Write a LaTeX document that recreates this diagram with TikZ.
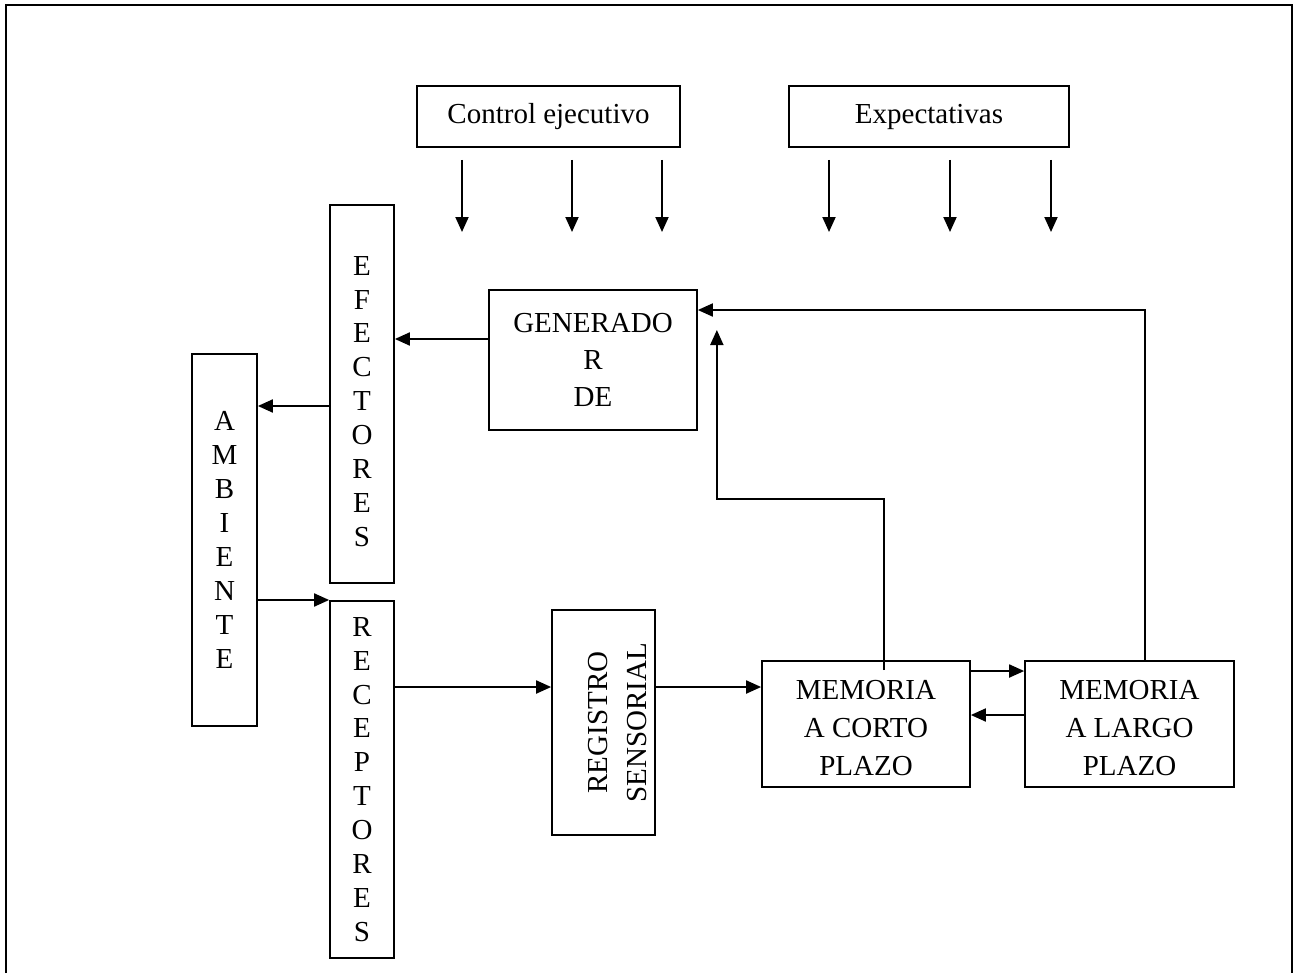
\documentclass[tikz,border=0pt]{standalone}
\usepackage{fontspec}
\setmainfont{Liberation Serif}
\usetikzlibrary{arrows.meta, positioning, calc}

% text stack moved down/up inside its box, box size unchanged
\newcommand{\movedstack}[2]{\raisebox{#1}[\height][\depth]{\begin{tabular}{@{}c@{}}#2\end{tabular}}}

\begin{document}
\begin{tikzpicture}[
    x=0.02cm, y=-0.02cm,
    box/.style={
        rectangle,
        draw,
        line width=1pt,
        inner sep=0pt,
        align=center,
        font=\fontsize{16.5}{21}\selectfont
    },
    vbox/.style={
        box,
        minimum width=1.28cm,
        font=\fontsize{16.5}{19.3}\selectfont
    },
    membox/.style={
        box,
        minimum height=2.52cm,
        font=\fontsize{16.5}{21.8}\selectfont
    },
    arrow/.style={
        -{Triangle[length=0.3cm,width=0.26cm]},
        line width=1.1pt
    }
]
\useasboundingbox (0,0) rectangle (1297,973);

% Frame (open at the bottom)
\draw[line width=1.3pt] (6,973) -- (6,5) -- (1292,5) -- (1292,973);

% Nodes
\node[box, minimum width=5.26cm, minimum height=1.22cm] (ctrl) at (548.5,116.5) {Control ejecutivo};
\node[box, minimum width=5.6cm, minimum height=1.22cm] (expect) at (929,116.5) {Expectativas};
\node[vbox, minimum height=7.56cm] (efect) at (362,394) {\movedstack{-0.2cm}{E\\F\\E\\C\\T\\O\\R\\E\\S}};
\node[vbox, minimum width=1.3cm, minimum height=7.44cm] (amb) at (224.5,540) {A\\M\\B\\I\\E\\N\\T\\E};
\node[vbox, minimum height=7.14cm] (recep) at (362,779.5) {R\\E\\C\\E\\P\\T\\O\\R\\E\\S};
\node[box, minimum width=4.16cm, minimum height=2.8cm] (gen) at (593,360) {GENERADO\\R\\DE};
\node[box, minimum width=2.06cm, minimum height=4.5cm] (reg) at (603.5,722.5) {};
\node[rotate=90, align=center, font=\fontsize{16.5}{22}\selectfont] (regtext)
    at ([xshift=0.28cm]reg.center) {REGISTRO\\SENSORIAL};
\node[membox, minimum width=4.16cm] (mcp) at (866,724) {\movedstack{-0.12cm}{MEMORIA\\A CORTO\\PLAZO}};
\node[membox, minimum width=4.18cm] (mlp) at (1129.5,724) {\movedstack{-0.12cm}{MEMORIA\\A LARGO\\PLAZO}};

% Downward arrows under the top boxes
\foreach \x [count=\i] in {462,572,662,829,950,1051} {
    \coordinate (top\i) at (\x,160);
    \coordinate (bot\i) at (\x,232);
    \draw[arrow] (top\i) -- (bot\i);
}

% Solid Arrows
\draw[arrow] ([yshift=0.42cm]gen.west) -- ([yshift=0.42cm]gen.west -| efect.east);
\draw[arrow] ([yshift=-0.24cm]efect.west) -- ([yshift=-0.24cm]efect.west -| amb.east);
\draw[arrow] ([yshift=-1.2cm]amb.east) -- ([yshift=-1.2cm]amb.east -| recep.west);
\draw[arrow] ([yshift=0.71cm]reg.west -| recep.east) -- ([yshift=0.71cm]reg.west);
\draw[arrow] ([yshift=0.71cm]reg.east) -- ([yshift=0.71cm]reg.east -| mcp.west);
\draw[arrow] ([yshift=1.06cm]mcp.east) -- ([yshift=1.06cm]mcp.east -| mlp.west);
\draw[arrow] ([yshift=0.18cm]mlp.west) -- ([yshift=0.18cm]mlp.west -| mcp.east);

% Feedback paths
\coordinate (tipA) at ([xshift=0.38cm,yshift=0.6cm]gen.east);
\draw[arrow] ([xshift=0.36cm,yshift=-0.2cm]mcp.north) |- ([yshift=-3.38cm]tipA) -- (tipA);
\draw[arrow] ([xshift=0.31cm]mlp.north) |- ([yshift=1cm]gen.east);

\end{tikzpicture}
\end{document}
